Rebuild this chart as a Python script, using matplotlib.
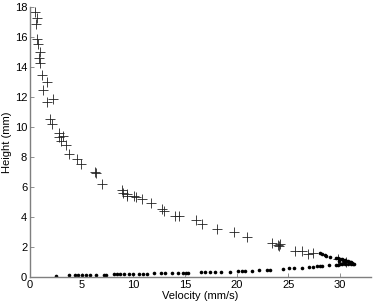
import matplotlib
matplotlib.use("Agg")
import matplotlib.pyplot as plt
import numpy as np

plt.rcParams['font.family'] = ['Liberation Sans', 'DejaVu Sans']

FONT_SIZE = 8
AXIS_GREY = "#7f7f7f"

# plus markers: height vs velocity
plus_vel = [0.48, 0.65, 0.58, 0.70, 0.80, 0.93, 0.87, 1.00, 1.13, 1.67, 1.29, 1.65, 2.20,
            1.90, 2.16, 2.80, 3.22, 2.84, 2.97, 3.52, 3.74, 4.52, 4.97, 6.29, 6.39, 6.97,
            8.94, 8.97, 9.42, 9.36, 10.1, 10.26, 10.87, 11.71, 12.78, 13.0, 14.0, 14.42,
            16.1, 16.6, 18.07, 19.7, 20.97, 23.4, 23.98, 24.2, 24.1, 25.65, 26.3, 26.94,
            27.43, 29.8, 30.6]
plus_height = [17.7, 17.3, 16.9, 15.9, 15.55, 14.98, 14.6, 14.29, 13.5, 13.0, 12.5, 11.67, 11.85,
               10.55, 10.2, 9.62, 9.42, 9.31, 9.09, 8.8, 8.22, 7.84, 7.51, 7.0, 6.91, 6.2,
               5.8, 5.62, 5.53, 5.4, 5.42, 5.31, 5.18, 4.91, 4.53, 4.42, 4.09, 4.09,
               3.8, 3.51, 3.22, 2.98, 2.67, 2.27, 2.11, 2.18, 2.05, 1.71, 1.71, 1.52,
               1.6, 1.2, 1.0]

# dots: lower band
dot_vel = [2.5, 3.8, 4.4, 4.6, 5.0, 5.4, 5.8, 6.4, 7.2, 7.35, 8.1, 8.4, 8.7, 9.1, 9.6, 10.0,
           10.5, 10.9, 11.3, 12.0, 12.7, 13.1, 13.7, 14.3, 14.8, 15.1, 15.3, 16.5, 16.9,
           17.4, 17.9, 18.5, 19.4, 20.1, 20.5, 20.8, 21.5, 22.2, 22.9, 23.2, 24.5, 25.1,
           25.5, 26.3, 27.0, 27.4, 27.8, 28.1, 28.3, 28.9, 29.6, 29.8, 30.0, 30.2, 30.5,
           30.8, 31.1, 31.3]
dot_height = [0.1, 0.12, 0.12, 0.12, 0.14, 0.14, 0.14, 0.15, 0.15, 0.16, 0.18, 0.18, 0.18, 0.2, 0.2, 0.22,
              0.22, 0.23, 0.23, 0.25, 0.25, 0.27, 0.28, 0.28, 0.3, 0.3, 0.3, 0.32, 0.34,
              0.34, 0.34, 0.35, 0.36, 0.4, 0.42, 0.42, 0.43, 0.46, 0.48, 0.5, 0.54, 0.58,
              0.58, 0.62, 0.66, 0.68, 0.72, 0.73, 0.74, 0.77, 0.8, 0.82, 0.84, 0.88, 0.9,
              0.9, 0.88, 0.9]

# dots: upper cluster near the right end
dot2_vel = [28.1, 28.3, 28.5, 28.65, 29.0, 29.6, 29.8, 30.0, 30.2, 30.3, 30.5, 30.6,
            30.8, 31.0, 31.1, 31.2, 31.4, 29.9, 30.4]
dot2_height = [1.58, 1.52, 1.48, 1.4, 1.33, 1.29, 1.25, 1.22, 1.2, 1.15, 1.12, 1.08,
               1.05, 1.02, 0.98, 0.95, 0.88, 1.1, 1.0]

x_ticks = [0, 5, 10, 15, 20, 25, 30]
y_ticks = [0, 2, 4, 6, 8, 10, 12, 14, 16, 18]

fig = plt.figure(figsize=(3.73, 3.06), dpi=100)
ax = fig.add_axes([30 / 373, 29 / 306, 341 / 373, 270 / 306])

ax.plot(plus_vel, plus_height, linestyle='none', marker='+', markersize=6.5,
        markeredgewidth=0.6, color='#222222')
ax.plot(dot_vel, dot_height, linestyle='none', marker='o', markersize=2.6,
        markeredgewidth=0, color='black')
ax.plot(dot2_vel, dot2_height, linestyle='none', marker='o', markersize=2.6,
        markeredgewidth=0, color='black')

ax.set_xlim(0, 33)
ax.set_ylim(0, 18)
ax.set_xticks(x_ticks)
ax.set_yticks(y_ticks)
ax.set_xlabel("Velocity (mm/s)", fontsize=FONT_SIZE, labelpad=1)
ax.set_ylabel("Height (mm)", fontsize=FONT_SIZE, labelpad=2)

for side in ['top', 'right']:
    ax.spines[side].set_visible(False)
for side in ['left', 'bottom']:
    ax.spines[side].set_color(AXIS_GREY)
    ax.spines[side].set_linewidth(1.0)
ax.tick_params(direction='in', length=3, width=0.6, color=AXIS_GREY,
               labelsize=FONT_SIZE, pad=2)

fig.savefig("out.png", dpi=100)
